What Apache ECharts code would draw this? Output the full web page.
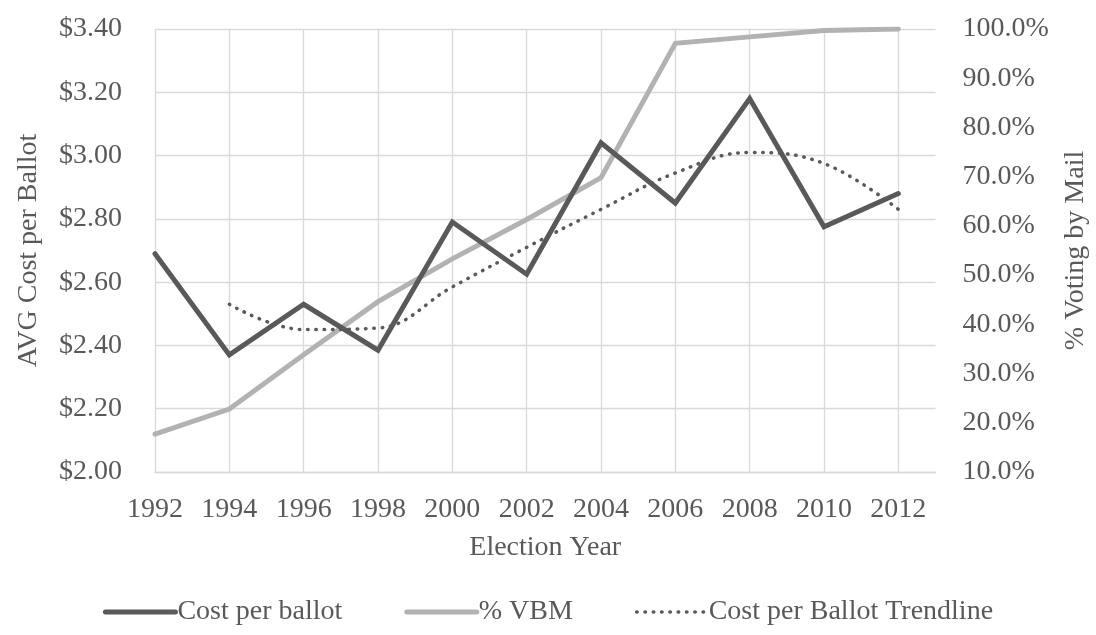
<!DOCTYPE html>
<html>
<head>
<meta charset="utf-8">
<script src="https://cdn.jsdelivr.net/npm/echarts@6/dist/echarts.min.js"></script>
<style>
  html, body { margin: 0; padding: 0; background: #ffffff; }
  #chart { width: 1096px; height: 635px; }
</style>
</head>
<body>
<div id="chart"></div>
<script>
// Election years on the horizontal axis
const years = [1992, 1994, 1996, 1998, 2000, 2002, 2004, 2006, 2008, 2010, 2012];
// Average cost per ballot, dollars
const costPerBallot = [2.69, 2.37, 2.53, 2.385, 2.79, 2.625, 3.04, 2.85, 3.18, 2.775, 2.88];
// Share of voters voting by mail, percent
const vbmPercent = [17.7, 22.8, 33.8, 44.6, 53.3, 61.3, 69.8, 97.1, 98.4, 99.7, 100.0];
// Trendline for cost per ballot (starts at 1994)
const trendYears = [1994, 1996, 1998, 2000, 2002, 2004, 2006, 2008, 2010, 2012];
const trendValues = [2.53, 2.45, 2.455, 2.585, 2.71, 2.83, 2.945, 3.01, 2.975, 2.83];

const textColor = '#595959';
const gridColor = '#d9d9d9';
const font = '"Liberation Serif", "Times New Roman", serif';
const fontSize = 28;

const pair = (xs, ys) => xs.map((x, i) => [x, ys[i]]);

// one colour per vertical split line; the last one (at the axis end) is hidden
const vLineColors = years.map(() => gridColor).concat(['rgba(0,0,0,0)']);

const chart = echarts.init(document.getElementById('chart'), null, { renderer: 'canvas' });
chart.setOption({
  animation: false,
  backgroundColor: '#ffffff',
  textStyle: { fontFamily: font, color: textColor },
  grid: {
    left: 155, right: 160.5, top: 29, bottom: 163,
    containLabel: false,
    outerBoundsMode: 'none'
  },
  legend: {
    bottom: 4,
    left: 'center',
    itemWidth: 70,
    itemHeight: 14,
    itemGap: 62,
    // legend keys are plain line segments, no point markers
    itemStyle: { opacity: 0 },
    lineStyle: { width: 'inherit', type: 'inherit', cap: 'inherit' },
    textStyle: { fontFamily: font, fontSize: fontSize, color: textColor, padding: [0, 0, 0, -3] },
    data: ['Cost per ballot', '% VBM', 'Cost per Ballot Trendline']
  },
  xAxis: {
    type: 'value',
    min: 1992,
    max: 2013,
    interval: 2,
    name: 'Election Year',
    nameLocation: 'middle',
    nameGap: 62,
    nameTextStyle: { fontFamily: font, fontSize: fontSize, color: textColor },
    axisLine: { show: true, lineStyle: { color: gridColor, width: 1.3 } },
    axisTick: { show: false },
    axisLabel: {
      margin: 24,
      fontFamily: font, fontSize: fontSize, color: textColor,
      showMaxLabel: false,
      formatter: v => String(v)
    },
    splitLine: { show: true, lineStyle: { color: vLineColors, width: 1.3 } }
  },
  yAxis: [
    {
      type: 'value',
      min: 2.0,
      max: 3.4,
      interval: 0.2,
      name: 'AVG Cost per Ballot',
      nameLocation: 'middle',
      nameGap: 112,
      nameTextStyle: { fontFamily: font, fontSize: fontSize, color: textColor },
      axisLine: { show: false },
      axisTick: { show: false },
      axisLabel: {
        margin: 33,
        fontFamily: font, fontSize: fontSize, color: textColor,
        formatter: v => '$' + v.toFixed(2)
      },
      splitLine: { show: true, lineStyle: { color: gridColor, width: 1.3 } }
    },
    {
      type: 'value',
      min: 10,
      max: 100,
      interval: 10,
      name: '% Voting by Mail',
      nameLocation: 'middle',
      nameGap: 126,
      nameRotate: 90,
      nameTextStyle: { fontFamily: font, fontSize: fontSize, color: textColor },
      axisLine: { show: false },
      axisTick: { show: false },
      axisLabel: {
        margin: 27,
        fontFamily: font, fontSize: fontSize, color: textColor,
        formatter: v => v.toFixed(1) + '%'
      },
      splitLine: { show: false }
    }
  ],
  series: [
    {
      name: 'Cost per ballot',
      type: 'line',
      yAxisIndex: 0,
      data: pair(years, costPerBallot),
      symbol: 'none',
      lineStyle: { color: '#595959', width: 5, cap: 'round', join: 'miter' },
      itemStyle: { color: '#595959' },
      z: 4
    },
    {
      name: '% VBM',
      type: 'line',
      yAxisIndex: 1,
      data: pair(years, vbmPercent),
      symbol: 'none',
      lineStyle: { color: '#b2b2b2', width: 5, cap: 'round', join: 'miter' },
      itemStyle: { color: '#b2b2b2' },
      z: 3
    },
    {
      name: 'Cost per Ballot Trendline',
      type: 'line',
      yAxisIndex: 0,
      data: pair(trendYears, trendValues),
      symbol: 'none',
      smooth: 0.4,
      lineStyle: { color: '#595959', width: 3.5, type: [0.5, 7.8], cap: 'round' },
      itemStyle: { color: '#595959' },
      z: 5
    }
  ]
});
</script>
</body>
</html>
